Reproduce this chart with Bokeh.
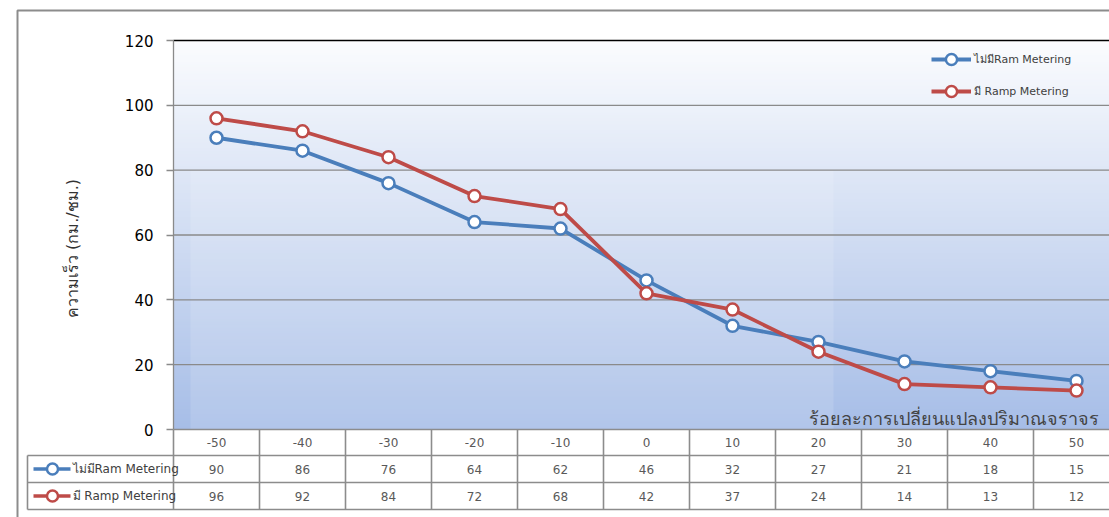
import math
from bokeh.plotting import figure
from bokeh.models import Range1d, FixedTicker, Legend, LegendItem
from bokeh.core.properties import value
from bokeh.embed import file_html
from bokeh.resources import INLINE

# ---- data -------------------------------------------------------------
change_pct = [-50, -40, -30, -20, -10, 0, 10, 20, 30, 40, 50]
speed_without_rm = [90, 86, 76, 64, 62, 46, 32, 27, 21, 18, 15]
speed_with_rm = [96, 92, 84, 72, 68, 42, 37, 24, 14, 13, 12]
series_names = ["ไม่มีRam Metering", "มี Ramp Metering"]
y_ticks = [0, 20, 40, 60, 80, 100, 120]
y_title = "ความเร็ว (กม./ชม.)"
x_title = "ร้อยละการเปลี่ยนแปลงปริมาณจราจร"

# ---- layout (pixels) --------------------------------------------------
W, H = 1109, 517
COL_W = 86                 # width of one category column
PLOT_L = 173               # left edge of the plot area
X_FIRST = PLOT_L + COL_W / 2
Y_ZERO, Y_TOP = 429, 40    # pixel rows of the 0 and 120 gridlines
PX_PER_UNIT = (Y_ZERO - Y_TOP) / (y_ticks[-1] - y_ticks[0])
ROW_LINES = [429, 455, 482, 509]
LABEL_L = 27
FONT = "DejaVu Sans"
BLUE, RED = "#4a7ebb", "#be4b48"
GRID = "#8a8a8a"


def xd(px):
    return (px - X_FIRST) / COL_W


def yd(py):
    return (Y_ZERO - py) / PX_PER_UNIT


idx = list(range(len(change_pct)))
n = len(idx)

p = figure(width=W, height=H, min_border=0, output_backend="svg",
           toolbar_location=None, x_range=Range1d(xd(0), xd(W)),
           y_range=Range1d(yd(H), yd(0)), outline_line_color=None,
           background_fill_color="white", border_fill_color="white")
p.xaxis.visible = False
p.xgrid.visible = False
p.ygrid.visible = False

# outer chart border
p.line([xd(17), xd(17), xd(W + 5)], [yd(H + 5), yd(10), yd(10)],
       line_color="#8c8c8c", line_width=2)

# plot area background: vertical gradient from white to light blue
steps = 130
bot = (166, 189, 231)
top = (251, 252, 254)
lefts, rights, bots, tops, cols = [], [], [], [], []
span = y_ticks[-1] - y_ticks[0]
for k in range(steps):
    t0 = k / steps
    t1 = (k + 1) / steps
    tm = (t0 + t1) / 2
    c = tuple(int(round(bot[j] + (top[j] - bot[j]) * tm)) for j in range(3))
    lefts.append(xd(PLOT_L))
    rights.append(xd(W + 20))
    bots.append(y_ticks[0] + span * t0)
    tops.append(min(y_ticks[0] + span * t1 + 0.4, y_ticks[-1]))
    cols.append("#%02x%02x%02x" % c)
p.quad(left=lefts, right=rights, bottom=bots, top=tops, fill_color=cols,
       line_color=None)
# lighter panel over the middle of the plot area
p.quad(left=[xd(190)], right=[xd(833)], bottom=[0], top=[yd(170)],
       fill_color="white", fill_alpha=0.13, line_color=None)

# horizontal gridlines
p.segment(x0=[xd(PLOT_L)] * (len(y_ticks) - 2), x1=[xd(W + 20)] * (len(y_ticks) - 2),
          y0=y_ticks[1:-1], y1=y_ticks[1:-1], line_color=GRID, line_width=1.3)
p.segment(x0=[xd(PLOT_L)], x1=[xd(W + 20)], y0=[y_ticks[-1]], y1=[y_ticks[-1]],
          line_color="black", line_width=1.6)

# y axis drawn inside the canvas at the plot area's left edge
ax = p.yaxis[0]
ax.fixed_location = xd(PLOT_L)
ax.ticker = FixedTicker(ticks=y_ticks)
ax.bounds = (y_ticks[0], y_ticks[-1])
ax.axis_line_color = GRID
ax.axis_line_width = 1.3
ax.major_tick_line_color = GRID
ax.major_tick_line_width = 1.3
ax.major_tick_out = 7
ax.major_tick_in = 0
ax.minor_tick_line_color = None
ax.major_label_standoff = 13
ax.major_label_text_font = FONT
ax.major_label_text_font_size = "15px"
ax.major_label_text_color = "black"

# y title, rotated
p.text(x=[xd(72)], y=[yd(248)], text=[y_title], angle=math.pi / 2,
       text_align="center", text_baseline="middle", text_font=value(FONT),
       text_font_size=value("16px"), text_color="#333333")

# series
l1 = p.line(idx, speed_without_rm, line_color=BLUE, line_width=3.8)
s1 = p.scatter(idx, speed_without_rm, size=12, marker="circle", fill_color="white",
               line_color=BLUE, line_width=2.5)
l2 = p.line(idx, speed_with_rm, line_color=RED, line_width=3.8)
s2 = p.scatter(idx, speed_with_rm, size=12, marker="circle", fill_color="white",
               line_color=RED, line_width=2.5)

legend = Legend(items=[LegendItem(label=series_names[0], renderers=[l1, s1]),
                       LegendItem(label=series_names[1], renderers=[l2, s2])],
                location=(931, H - 105), glyph_width=40, glyph_height=28,
                label_height=28, spacing=4, padding=3, label_standoff=3,
                label_text_font=FONT, label_text_font_size="11px",
                label_text_color="#404040", background_fill_alpha=0,
                border_line_color=None)
p.add_layout(legend)

# x title inside the plot area
p.text(x=[xd(1098)], y=[yd(418)], text=[x_title], text_align="right",
       text_baseline="alphabetic", text_font=value(FONT),
       text_font_size=value("18px"), text_color="#444444")

# ---- data table under the plot ----------------------------------------
TABLE_LINE = "#8c8c8c"
edges = [i - 0.5 for i in range(n + 1)]
p.segment(x0=edges, x1=edges, y0=[yd(ROW_LINES[0])] * len(edges),
          y1=[yd(ROW_LINES[-1])] * len(edges), line_color=TABLE_LINE, line_width=1.6)
p.segment(x0=[xd(LABEL_L)], x1=[xd(LABEL_L)], y0=[yd(ROW_LINES[1])],
          y1=[yd(ROW_LINES[-1])], line_color=TABLE_LINE, line_width=1.6)
p.segment(x0=[xd(PLOT_L)] + [xd(LABEL_L)] * 3, x1=[xd(W + 20)] * 4,
          y0=[yd(r) for r in ROW_LINES], y1=[yd(r) for r in ROW_LINES],
          line_color=TABLE_LINE, line_width=1.6)

row_mid = [yd((ROW_LINES[k] + ROW_LINES[k + 1]) / 2) for k in range(3)]
cell_style = dict(text_align="center", text_baseline="middle",
                  text_font=value(FONT), text_font_size=value("12px"),
                  text_color="#595959")
p.text(x=idx, y=[row_mid[0]] * n, text=[str(v) for v in change_pct], **cell_style)
p.text(x=idx, y=[row_mid[1]] * n, text=[str(v) for v in speed_without_rm], **cell_style)
p.text(x=idx, y=[row_mid[2]] * n, text=[str(v) for v in speed_with_rm], **cell_style)

# row headers with series keys
for k, (name, col) in enumerate(zip(series_names, [BLUE, RED])):
    yy = row_mid[k + 1]
    p.line([xd(33), xd(70)], [yy, yy], line_color=col, line_width=3.5)
    p.scatter([xd(52)], [yy], size=11, marker="circle", fill_color="white",
              line_color=col, line_width=2.5)
    p.text(x=[xd(72)], y=[yy], text=[name], text_align="left",
           text_baseline="middle", text_font=value(FONT),
           text_font_size=value("12px"), text_color="#404040")

open("out.html", "w").write(file_html(p, INLINE))
